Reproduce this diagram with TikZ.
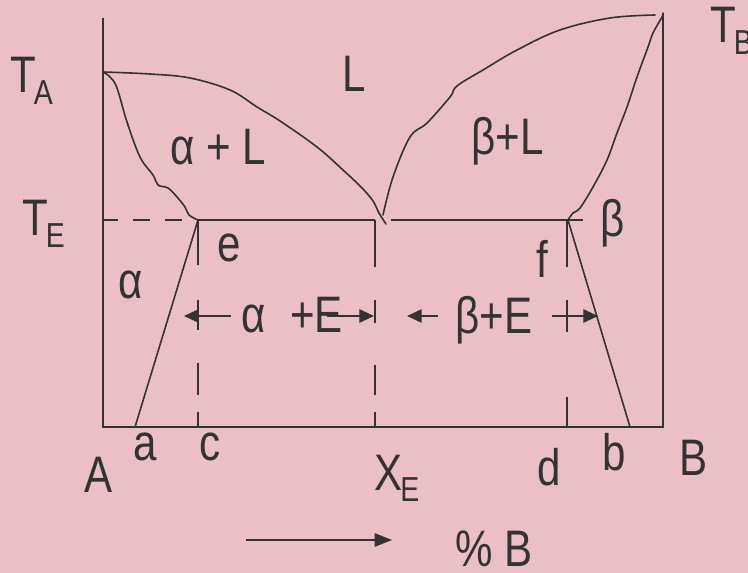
\documentclass[tikz,border=0pt]{standalone}
\usepackage{fontspec}
\setmainfont{Liberation Sans}[FakeStretch=0.82]
\usetikzlibrary{arrows.meta}
\definecolor{bgpink}{RGB}{234,192,198}
\definecolor{ink}{RGB}{51,51,51}
\newcommand\bigtext{\fontsize{38.5}{46}\selectfont}
\newcommand\lowsub[1]{\kern-1.5pt\raisebox{-8.5pt}{\fontsize{26}{30}\selectfont #1}}
\tikzset{
  axisline/.style={ink, line width=1.5pt},
  phaseline/.style={ink, line width=1.2pt, line join=round, line cap=round},
  lbl/.style={anchor=base west, inner sep=0pt, text=ink, font=\bigtext},
  dimarrow/.style={ink, line width=1.3pt, -{Triangle[length=11pt,width=10pt]}},
}
\begin{document}
\begin{tikzpicture}[x=0.75pt,y=-0.75pt]
\fill[bgpink] (0,0) rectangle (748,573);
\useasboundingbox (0,0) rectangle (748,573);

% key points
\coordinate (TA) at (103,72);
\coordinate (TBp) at (663,13);
\coordinate (e) at (198,220);
\coordinate (f) at (568,220);
\coordinate (a) at (135,427);
\coordinate (b) at (630,427);
\coordinate (Aaxis) at (103,427);
\coordinate (Baxis) at (663,427);
\coordinate (Atop) at (103,18);

% axes
\draw[axisline] (Atop) -- (Aaxis) -- (Baxis) -- (TBp);

% left liquidus
\draw[phaseline] plot[smooth, tension=0.6] coordinates {(TA) (150,74) (190,78) (230,90) (257,107) (280,121) (317,147) (343,170) (362,188) (373,201) (379,213) (386,224)};
% left solidus
\draw[phaseline] plot[smooth, tension=0.6] coordinates {(TA) (110,77) (117,88) (127,122) (140,157) (153,175) (158,185) (168,188) (177,197) (185,207) (189,215) (e)};
% right liquidus
\draw[phaseline] plot[smooth, tension=0.6] coordinates {(383,215) (393,177) (410,137) (427,123) (450,97) (457,86) (483,70) (517,50) (560,30) (610,18) (655,15)};
% right solidus
\draw[phaseline] plot[smooth, tension=0.6] coordinates {(TBp) (662,17) (653,33) (648,47) (637,77) (627,107) (617,133) (607,160) (593,187) (580,208) (573,213) (f)};

% eutectic line
\foreach \xa/\xb in {103/118,133/150,165/182}
  \draw[axisline] (\xa,220) -- (\xb,220);
\draw[axisline] (e) -- (375,220);
\draw[axisline] (391,220) -- (583,220);

% solvus lines
\draw[phaseline] (e) -- (a);
\draw[phaseline] (f) -- (b);

% vertical dashed lines
\foreach \ya/\yb in {220/265,300/330,363/395,412/427}
  \draw[axisline] (198,\ya) -- (198,\yb);
\foreach \ya/\yb in {220/267,300/323,365/395,412/427}
  \draw[axisline] (375,\ya) -- (375,\yb);
\foreach \ya/\yb in {220/267,300/332,397/427}
  \draw[axisline] (567,\ya) -- (567,\yb);

% dimension arrows
\coordinate (r1s) at (231,316); \coordinate (r1e) at (184,316);
\coordinate (r2s) at (327,316); \coordinate (r2e) at (374,316);
\coordinate (r3s) at (438,316); \coordinate (r3e) at (407,316);
\coordinate (r4s) at (552,316); \coordinate (r4e) at (598,316);
\draw[dimarrow] (r1s) -- (r1e);
\draw[dimarrow] (r2s) -- (r2e);
\draw[dimarrow] (r3s) -- (r3e);
\draw[dimarrow] (r4s) -- (r4e);

\coordinate (cs) at (246,540); \coordinate (ce) at (392,540);
\draw[ink, line width=1.3pt, -{Triangle[length=13pt,width=10pt]}] (cs) -- (ce);

% labels
\node[lbl] (lTA) at (10,93) {T\lowsub{A}};
\node[lbl] (lTB) at (710,43) {T\lowsub{B}};
\node[lbl] (lTE) at (22,236) {T\lowsub{E}};
\node[lbl] (lL) at (342,92) {L};
\node[lbl] (laL) at (170,165) {α + L};
\node[lbl] (lbL) at (471,155) {β+L};
\node[lbl] (le) at (217,262) {e};
\node[lbl] (lbeta) at (600,237) {β};
\node[lbl] (lf) at (536,277) {f};
\node[lbl] (lalpha) at (118,298) {α};
\node[lbl] (laE1) at (241,332) {α};
\node[lbl] (laE2) at (290,332) {+E};
\node[lbl] (lbE) at (455,333) {β+E};
\node[lbl] (lA) at (84,492) {A};
\node[lbl] (la) at (133,460) {a};
\node[lbl] (lc) at (199,460) {c};
\node[lbl] (lXE) at (374,490) {X\lowsub{E}};
\node[lbl] (ld) at (537,485) {d};
\node[lbl] (lb) at (602,470) {b};
\node[lbl] (lB) at (679,475) {B};
\node[lbl] (lpB) at (455,566) {\% B};
\end{tikzpicture}
\end{document}
